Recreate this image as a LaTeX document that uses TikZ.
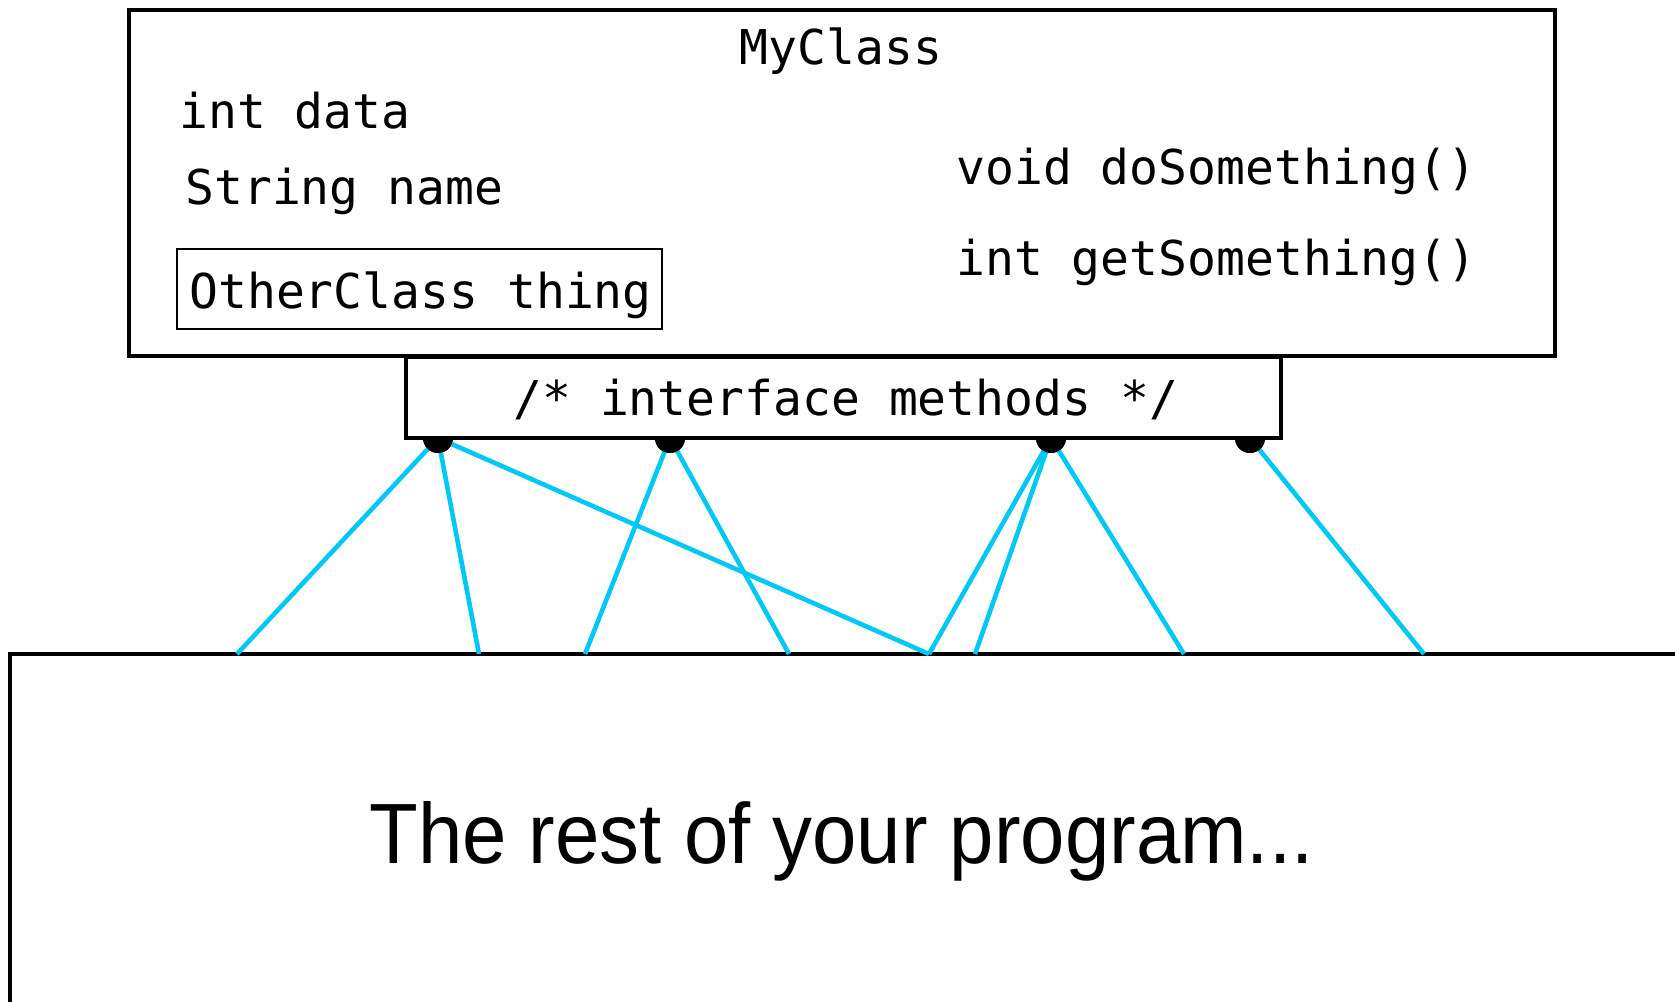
\documentclass[tikz,border=0pt]{standalone}
\usepackage{fontspec}
\usepackage{graphicx}
\newfontfamily\codefont{DejaVu Sans Mono}
\newfontfamily\helv{Liberation Sans}
\definecolor{wirecol}{HTML}{00C8F5}
\begin{document}
\begin{tikzpicture}[x=0.5pt,y=-0.5pt,
  code/.style={font=\codefont\fontsize{24}{28}\selectfont, inner sep=0pt, anchor=base west},
  frame/.style={draw=black, fill=white, line width=1.7pt, rectangle, inner sep=0pt, outer sep=0pt},
  wire/.style={draw=wirecol, line width=2.3pt},
  pin/.style={circle, fill=black, inner sep=0pt, minimum size=15pt}]
\useasboundingbox (0,0) rectangle (1675,1001);
\clip (0,0) rectangle (1675,1001);

% bottom box
\node[frame, line width=2.2pt, minimum width=845pt, minimum height=198pt] (rest) at (855,852) {};
\node[inner sep=0pt, anchor=base west] (resttext) at (369,863) {\resizebox{472pt}{31pt}{\helv The rest of your program...}};

% pins and bottom points
\node[pin] (d1) at (438,438) {};
\node[pin] (d2) at (670,438) {};
\node[pin] (d3) at (1051,438) {};
\node[pin] (d4) at (1250,438) {};
\coordinate (b1) at (237,654);
\coordinate (b2) at (479,654);
\coordinate (b3) at (585,654);
\coordinate (b4) at (789,654);
\coordinate (b5) at (929,654);
\coordinate (b6) at (975,654);
\coordinate (b7) at (1184,654);
\coordinate (b8) at (1424,654);

\draw[wire] (d1.center) -- (b1);
\draw[wire] (d1.center) -- (b2);
\draw[wire] (d1.center) -- (b5);
\draw[wire] (d2.center) -- (b3);
\draw[wire] (d2.center) -- (b4);
\draw[wire] (d3.center) -- (b5);
\draw[wire] (d3.center) -- (b6);
\draw[wire] (d3.center) -- (b7);
\draw[wire] (d4.center) -- (b8);

\node[pin] at (d1) {};
\node[pin] at (d2) {};
\node[pin] at (d3) {};
\node[pin] at (d4) {};

% interface box
\node[frame, minimum width=437.5pt, minimum height=40.5pt] (iface) at (843.5,397.5) {};
\node[code] (ifacetext) at (513,415) {/* interface methods */};

% class box
\node[frame, minimum width=713pt, minimum height=173pt] (cls) at (842,183) {};
\node[code, anchor=base] (title) at (841,64) {MyClass};
\node[code] (f1) at (179,128) {int data};
\node[code] (f2) at (185,204) {String name};
\node[frame, line width=0.75pt, minimum width=242.5pt, minimum height=40pt] (other) at (419.5,289) {};
\node[code] (f3) at (189,308) {OtherClass thing};
\node[code] (m1) at (956,184) {void doSomething()};
\node[code] (m2) at (956,275) {int getSomething()};
\end{tikzpicture}
\end{document}
